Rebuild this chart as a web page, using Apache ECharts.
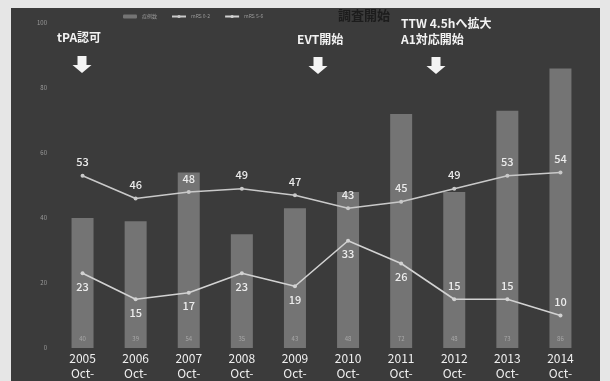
<!DOCTYPE html>
<html>
<head>
<meta charset="utf-8">
<script src="https://cdn.jsdelivr.net/npm/echarts@6/dist/echarts.min.js"></script>
<style>
  html, body { margin: 0; padding: 0; background: #e6e6e6; }
  #chart { width: 610px; height: 381px; }
</style>
</head>
<body>
<div id="chart"></div>
<script>
// Yearly figures (October of each year)
const years = ['2005', '2006', '2007', '2008', '2009', '2010', '2011', '2012', '2013', '2014'];
const cases = [40, 39, 54, 35, 43, 48, 72, 48, 73, 86];
const mrs02 = [53, 46, 48, 49, 47, 43, 45, 49, 53, 54];
const mrs56 = [23, 15, 17, 23, 19, 33, 26, 15, 15, 10];
const yTicks = [0, 20, 40, 60, 80, 100];

// which side of the point each mRS 5-6 label sits on
const lowLabelSide = ['bottom', 'bottom', 'bottom', 'bottom', 'bottom', 'bottom', 'bottom', 'top', 'top', 'top'];

const chart = echarts.init(document.getElementById('chart'), null, { renderer: 'canvas' });

const FONT = '"Noto Sans CJK JP", "Noto Sans", sans-serif';

// white block arrow pointing down, centred at x, top at y
function arrow(x, y) {
  const sw = 4.5, hw = 9.5, sh = 9, h = 17;
  return {
    type: 'polygon',
    z: 20,
    shape: {
      points: [
        [x - sw, y], [x + sw, y], [x + sw, y + sh], [x + hw, y + sh],
        [x, y + h], [x - hw, y + sh], [x - sw, y + sh]
      ]
    },
    style: { fill: '#f4f4f4' }
  };
}

function note(text, x, y, size) {
  return {
    type: 'text', z: 20, x: x, y: y,
    style: { text: text, fill: '#f2f2f2', font: 'bold ' + size + 'px ' + FONT }
  };
}

const lineLabel = {
  show: true,
  color: '#ececec',
  fontSize: 11,
  fontWeight: 500,
  fontFamily: FONT,
  distance: 6
};

chart.setOption({
  backgroundColor: '#e6e6e6',
  animation: false,
  textStyle: { fontFamily: FONT },
  graphic: [
    { type: 'rect', z: -10, silent: true, shape: { x: 11, y: 8, width: 589, height: 373 }, style: { fill: '#3b3b3b' } },
    { type: 'text', z: 20, x: 338, y: 9, style: { text: '調査開始', fill: '#1c1c1c', font: 'bold 13px ' + FONT } },
    note('tPA認可', 57, 31, 12),
    note('EVT開始', 297, 33, 12),
    note('TTW 4.5hへ拡大', 401, 17, 12),
    note('A1対応開始', 401, 33, 12),
    arrow(82, 56),
    arrow(318, 57),
    arrow(436, 57)
  ],
  legend: {
    top: 9,
    left: 118,
    itemWidth: 14,
    itemHeight: 4,
    itemGap: 14,
    textStyle: { color: '#9a9a9a', fontSize: 5 },
    data: ['症例数', 'mRS 0-2', 'mRS 5-6']
  },
  grid: { left: 56, right: 23, top: 23, bottom: 33 },
  xAxis: {
    type: 'category',
    data: years,
    axisLine: { show: false },
    axisTick: { show: false },
    axisLabel: {
      color: '#f0f0f0',
      fontSize: 12,
      lineHeight: 15,
      margin: 3,
      formatter: v => v + '\nOct-'
    }
  },
  yAxis: {
    type: 'value',
    min: yTicks[0],
    max: yTicks[yTicks.length - 1],
    interval: yTicks[1] - yTicks[0],
    axisLine: { show: false },
    axisTick: { show: false },
    splitLine: { show: false },
    axisLabel: { color: '#9a9a9a', fontSize: 6, margin: 9 }
  },
  series: [
    {
      name: '症例数',
      type: 'bar',
      data: cases,
      barWidth: 22,
      itemStyle: { color: '#747474' },
      label: {
        show: true,
        position: 'insideBottom',
        distance: 6,
        color: '#a8a8a8',
        fontSize: 6
      }
    },
    {
      name: 'mRS 0-2',
      type: 'line',
      data: mrs02,
      symbol: 'circle',
      symbolSize: 4,
      lineStyle: { color: '#c9c9c9', width: 1.6 },
      itemStyle: { color: '#c9c9c9' },
      label: Object.assign({ position: 'top' }, lineLabel),
      z: 5
    },
    {
      name: 'mRS 5-6',
      type: 'line',
      data: mrs56.map((v, i) => ({ value: v, label: { position: lowLabelSide[i] } })),
      symbol: 'circle',
      symbolSize: 4,
      lineStyle: { color: '#d2d2d2', width: 1.6 },
      itemStyle: { color: '#d2d2d2' },
      label: Object.assign({ position: 'bottom' }, lineLabel),
      z: 5
    }
  ]
});
</script>
</body>
</html>
